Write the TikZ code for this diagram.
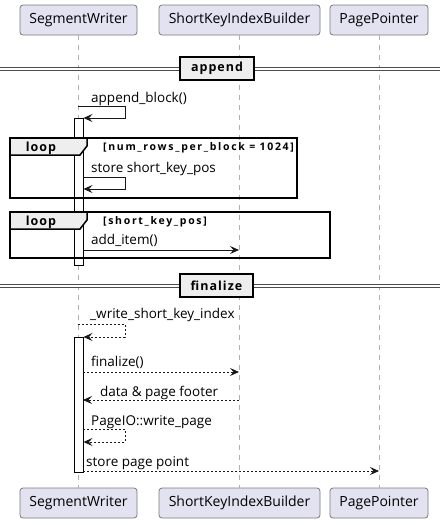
\documentclass[tikz,border=0pt]{standalone}
\usepackage{fontspec}
\setmainfont{Open Sans}
\newfontfamily\spacedbold{Open Sans}[LetterSpace=8,UprightFont=*-Bold]
\newfontfamily\condbold{Open Sans}[LetterSpace=16,UprightFont=*-Bold]
\usetikzlibrary{arrows.meta}
\definecolor{partfill}{HTML}{E2E2F0}
\definecolor{partline}{HTML}{7A7A7A}
\definecolor{lifegray}{HTML}{B0B0B0}
\definecolor{groupfill}{HTML}{EEEEEE}
\definecolor{msgline}{HTML}{181818}

\begin{document}
\begin{tikzpicture}[x=1pt,y=-1pt,
    participant/.style={draw=partline,fill=partfill,rounded corners=3pt,minimum height=30pt,inner sep=0pt,line width=0.8pt,font=\fontsize{14}{16}\selectfont},
    lifeline/.style={draw=lifegray,dash pattern=on 5pt off 5pt,line width=1pt},
    msg/.style={draw=msgline,line width=0.8pt,-{Stealth[length=9pt,width=8pt,inset=3.5pt]}},
    retmsg/.style={msg,dash pattern=on 2pt off 2pt},
    msglabel/.style={anchor=base west,inner sep=0pt,font=\fontsize{13.5}{15}\selectfont},
    activation/.style={draw=black,fill=white,line width=1pt},
    groupframe/.style={draw=black,line width=1.5pt},
    grouptab/.style={draw=black,fill=groupfill,line width=1.5pt},
    looplabel/.style={anchor=base,inner sep=0pt,font=\spacedbold\fontsize{12.5}{14}\selectfont},
    condlabel/.style={anchor=base west,inner sep=0pt,font=\condbold\fontsize{10.5}{12}\selectfont},
    divbox/.style={draw=black,fill=groupfill,line width=1.5pt,minimum height=23pt,inner sep=0pt,font=\spacedbold\fontsize{12.5}{14}\selectfont},
    divline/.style={draw=black!70,double=white,double distance=2pt,line width=0.8pt}]

    \useasboundingbox (0,0) rectangle (440,525);

    % participants
    \node[participant,minimum width=117pt] (swtop) at (78.5,20) {SegmentWriter};
    \node[participant,minimum width=161pt] (sktop) at (239.5,20) {ShortKeyIndexBuilder};
    \node[participant,minimum width=98pt] (pptop) at (379,20) {PagePointer};
    \node[participant,minimum width=117pt] (swbot) at (78.5,503) {SegmentWriter};
    \node[participant,minimum width=161pt] (skbot) at (239.5,503) {ShortKeyIndexBuilder};
    \node[participant,minimum width=98pt] (ppbot) at (379,503) {PagePointer};

    \draw[lifeline] (78,35) -- (78,488);
    \draw[lifeline] (239,35) -- (239,488);
    \draw[lifeline] (379,35) -- (379,488);

    % append
    \draw[divline] (0,69) -- (440,69);
    \node[divbox,minimum width=74pt] (append) at (217,68.5) {append};

    \node[msglabel] (abtxt) at (91,102) {append\_block()};
    \coordinate (abs) at (78,106);
    \coordinate (abe) at (83.5,118);
    \draw[msg] (abs) -- ++(47,0) |- (abe);

    \draw[activation] (74,118) rectangle (83,265);

    % loop 1
    \draw[grouptab] (10,138) -- (87,138) -- (87,146) -- (80,155) -- (10,155) -- cycle;
    \draw[groupframe] (10,138) rectangle (297,198);
    \node[looplabel] (loopa) at (41,151.5) {loop};
    \node[condlabel] (conda) at (103,150.5) {[num\_rows\_per\_block = 1024]};
    \node[msglabel] (sktxt) at (91,172) {store short\_key\_pos};
    \coordinate (sks) at (83,177);
    \coordinate (ske) at (83.5,189);
    \draw[msg] (sks) -- ++(42,0) |- (ske);

    % loop 2
    \draw[grouptab] (10,212) -- (87,212) -- (87,220) -- (80,229) -- (10,229) -- cycle;
    \draw[groupframe] (10,212) rectangle (330,258);
    \node[looplabel] (loopb) at (41,225.5) {loop};
    \node[condlabel] (condb) at (103,224) {[short\_key\_pos]};
    \node[msglabel] (aitxt) at (91,244.5) {add\_item()};
    \coordinate (ais) at (83,250);
    \coordinate (aie) at (239,250);
    \draw[msg] (ais) -- (aie);

    % finalize
    \draw[divline] (0,286) -- (440,286);
    \node[divbox,minimum width=73pt] (finalize) at (216.5,285.5) {finalize};

    \node[msglabel] (wstxt) at (90,318.5) {\_write\_short\_key\_index};
    \coordinate (wss) at (78,324);
    \coordinate (wse) at (83.5,337);
    \draw[retmsg] (wss) -- ++(47,0) |- (wse);

    \draw[activation] (74,337) rectangle (83,472);

    \node[msglabel] (fitxt) at (91,366.5) {finalize()};
    \coordinate (fis) at (83,372);
    \coordinate (fie) at (239,372);
    \draw[retmsg] (fis) -- (fie);

    \node[msglabel] (dftxt) at (100,396) {data \& page footer};
    \coordinate (dfs) at (239,400);
    \coordinate (dfe) at (83,400);
    \draw[retmsg] (dfs) -- (dfe);

    \node[msglabel] (wptxt) at (91,425) {PageIO::write\_page};
    \coordinate (wps) at (83,429);
    \coordinate (wpe) at (83.5,442);
    \draw[retmsg] (wps) -- ++(42,0) |- (wpe);

    \node[msglabel] (sptxt) at (86,466.5) {store page point};
    \coordinate (sps) at (83,471);
    \coordinate (spe) at (379,471);
    \draw[retmsg] (sps) -- (spe);
\end{tikzpicture}
\end{document}
